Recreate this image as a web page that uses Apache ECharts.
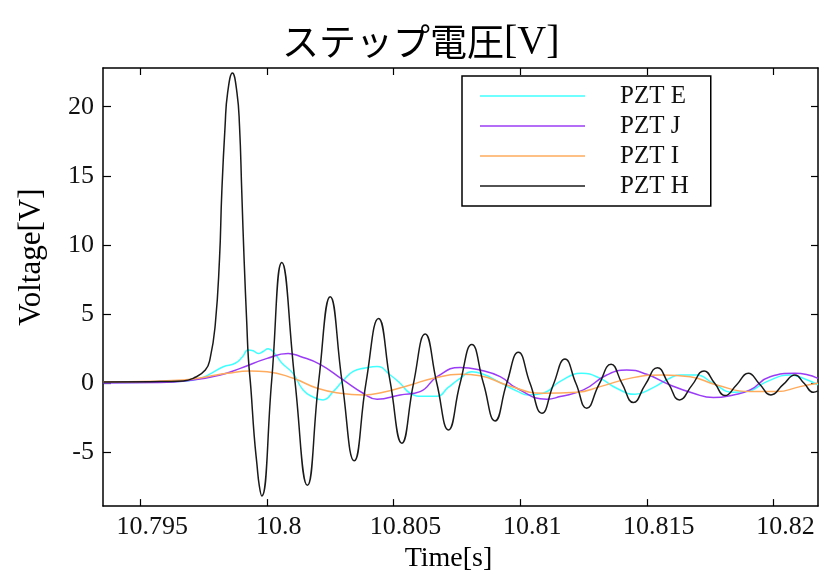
<!DOCTYPE html>
<html>
<head>
<meta charset="utf-8">
<script src="https://cdn.jsdelivr.net/npm/echarts@6/dist/echarts.min.js"></script>
<style>
  html, body { margin: 0; padding: 0; background: #fff; }
  #chart { width: 819px; height: 578px; }
</style>
</head>
<body>
<div id="chart"></div>
<script>
// Step response of four PZT sensors: [time (s), voltage (V)]
const pztE = [
  [10.79354, 0.05], [10.79540, 0.08], [10.79670, 0.15], [10.79737, 0.35],
  [10.79784, 0.75], [10.79828, 1.2], [10.79875, 1.45], [10.79903, 1.9],
  [10.79926, 2.4], [10.79946, 2.35], [10.79966, 2.15], [10.79985, 2.3],
  [10.80005, 2.5], [10.80033, 2.1], [10.80060, 1.45], [10.80104, 0.7],
  [10.80143, -0.48], [10.80183, -1.0], [10.80222, -1.2], [10.80262, -0.6],
  [10.80301, 0.2], [10.80341, 0.86], [10.80388, 1.1], [10.80435, 1.22],
  [10.80487, 0.6], [10.80526, 0.0], [10.80566, -0.72], [10.80617, -0.94],
  [10.80672, -0.94], [10.80716, -0.3], [10.80763, 0.36], [10.80809, 0.84],
  [10.80862, 0.6], [10.80901, 0.25], [10.80947, -0.2], [10.80992, -0.6],
  [10.81031, -0.84], [10.81091, -0.72], [10.81158, 0.14], [10.81243, 0.72],
  [10.81316, 0.36], [10.81381, -0.36], [10.81454, -0.79], [10.81525, -0.31],
  [10.81584, 0.3], [10.81631, 0.6], [10.81697, 0.6], [10.81762, 0.0],
  [10.81841, -0.65], [10.81895, -0.6], [10.81974, 0.12], [10.82066, 0.6],
  [10.82117, 0.36], [10.82176, -0.12]
];

const pztJ = [
  [10.79354, 0.02], [10.79579, 0.05], [10.79709, 0.24], [10.79816, 0.6],
  [10.79895, 1.08], [10.80001, 1.8], [10.80084, 2.16], [10.80132, 1.94],
  [10.80210, 1.37], [10.80301, 0.24], [10.80380, -0.72], [10.80435, -1.15],
  [10.80526, -0.84], [10.80605, -0.6], [10.80672, 0.48], [10.80763, 1.15],
  [10.80842, 0.96], [10.80921, 0.48], [10.80987, -0.36], [10.81105, -1.15],
  [10.81158, -0.96], [10.81250, -0.48], [10.81342, 0.6], [10.81421, 0.96],
  [10.81500, 0.65], [10.81592, -0.12], [10.81684, -0.72], [10.81763, -1.03],
  [10.81842, -0.84], [10.81908, -0.48], [10.81987, 0.48], [10.82085, 0.72],
  [10.82176, 0.36]
];

const pztI = [
  [10.79354, 0.12], [10.79449, 0.12], [10.79670, 0.24], [10.79764, 0.48],
  [10.79843, 0.72], [10.79934, 0.89], [10.80001, 0.84], [10.80104, 0.36],
  [10.80199, -0.36], [10.80289, -0.72], [10.80380, -0.84], [10.80459, -0.65],
  [10.80566, -0.12], [10.80657, 0.36], [10.80763, 0.65], [10.80842, 0.55],
  [10.80947, -0.12], [10.81091, -0.72], [10.81224, -0.65], [10.81316, -0.24],
  [10.81446, 0.41], [10.81564, 0.6], [10.81671, 0.48], [10.81776, -0.12],
  [10.81908, -0.6], [10.82013, -0.6], [10.82105, -0.24], [10.82176, 0.0]
];

const pztH = [
  [10.79354, 0.10], [10.79540, 0.12], [10.79670, 0.17], [10.79709, 0.36],
  [10.79757, 0.96], [10.79776, 1.8], [10.79796, 4.2], [10.79813, 9.0],
  [10.79822, 13.8], [10.79835, 18.6], [10.79845, 21.0], [10.79864, 22.44],
  [10.79882, 21.0], [10.79892, 18.6], [10.79901, 13.8], [10.79910, 9.0],
  [10.79921, 4.2], [10.79927, 1.8], [10.79937, -0.4], [10.79950, -3.8],
  [10.79961, -5.9], [10.79970, -7.4], [10.79980, -8.15], [10.80019, 0.2],
  [10.80059, 8.73], [10.80110, 0.3], [10.80160, -7.38], [10.80205, 0.2],
  [10.80250, 6.26], [10.80297, 0.1], [10.80345, -5.6], [10.80392, 0.1],
  [10.80441, 4.69], [10.80487, 0.1], [10.80533, -4.33], [10.80579, 0.0],
  [10.80625, 3.56], [10.80671, 0.0], [10.80717, -3.37], [10.80763, 0.0],
  [10.80809, 2.81], [10.80855, 0.0], [10.80901, -2.72], [10.80947, 0.0],
  [10.80993, 2.24], [10.81039, 0.0], [10.81086, -2.16], [10.81131, -0.1],
  [10.81177, 1.75], [10.81220, 0.0], [10.81263, -1.8], [10.81311, -0.1],
  [10.81359, 1.37], [10.81402, 0.0], [10.81447, -1.39], [10.81494, -0.1],
  [10.81542, 1.13], [10.81585, 0.0], [10.81629, -1.2], [10.81678, -0.15],
  [10.81726, 0.89], [10.81768, 0.0], [10.81809, -0.89], [10.81855, -0.1],
  [10.81901, 0.72], [10.81945, -0.05], [10.81990, -0.84], [10.82038, -0.1],
  [10.82085, 0.6], [10.82121, 0.0], [10.82158, -0.65], [10.82176, -0.55]
];

const seriesNames = ['PZT E', 'PZT J', 'PZT I', 'PZT H'];
const seriesColors = ['#40ffff', '#9a3cf5', '#ffab5e', '#1a1a1a'];
const xTicks = [10.795, 10.8, 10.805, 10.81, 10.815, 10.82];
const yTicks = [-5, 0, 5, 10, 15, 20];
const xRange = [10.79353, 10.82176];
const yRange = [-8.88, 22.8];

const serif = 'Liberation Serif, DejaVu Serif, serif';

// Unlabelled top / right axes closing the plot frame, ticks pointing inward
function frameAxis(pos, ticks, range) {
  return {
    type: 'value',
    position: pos,
    min: range[0],
    max: range[1],
    axisLine: { show: true, onZero: false, lineStyle: { color: '#000', width: 1.5 } },
    axisTick: { show: true, inside: true, length: 7, customValues: ticks,
                lineStyle: { color: '#000', width: 1.2 } },
    axisLabel: { show: false },
    splitLine: { show: false }
  };
}

const chart = echarts.init(document.getElementById('chart'), null, { renderer: 'canvas' });

const option = {
  animation: false,
  backgroundColor: '#fff',
  title: {
    text: '{a|ステップ電圧}{b|[V]}',
    left: 277,
    top: 14,
    textStyle: {
      fontWeight: 'normal',
      rich: {
        a: { fontFamily: 'Noto Sans CJK JP', fontSize: 37, fontWeight: 'normal', color: '#000', lineHeight: 46 },
        b: { fontFamily: serif, fontSize: 40, fontWeight: 'normal', color: '#000', lineHeight: 46 }
      }
    }
  },
  grid: { left: 103, right: 1, top: 68, bottom: 70, containLabel: false },
  legend: {
    orient: 'vertical',
    left: 462,
    top: 76,
    padding: [5, 22, 5, 18],
    itemGap: 0,
    itemWidth: 105,
    itemHeight: 1.5,
    icon: 'rect',
    backgroundColor: '#fff',
    borderColor: '#000',
    borderWidth: 1.5,
    borderRadius: 0,
    data: seriesNames,
    textStyle: {
      fontFamily: serif,
      fontSize: 25,
      color: '#111',
      lineHeight: 30,
      padding: [0, 0, 0, 30]
    }
  },
  xAxis: [
    {
      type: 'value',
      position: 'bottom',
      min: xRange[0],
      max: xRange[1],
      name: 'Time[s]',
      nameLocation: 'middle',
      nameGap: 35,
      nameTextStyle: { fontFamily: serif, fontSize: 28, color: '#000', padding: [0, 24, 0, 0] },
      axisLine: { show: true, onZero: false, lineStyle: { color: '#000', width: 1.5 } },
      axisTick: { show: true, inside: true, length: 7, customValues: xTicks,
                  lineStyle: { color: '#000', width: 1.2 } },
      axisLabel: {
        customValues: xTicks,
        fontFamily: serif,
        fontSize: 26,
        color: '#111',
        margin: 8,
        padding: [0, 0, 0, 24]
      },
      splitLine: { show: false }
    },
    frameAxis('top', xTicks, xRange)
  ],
  yAxis: [
    {
      type: 'value',
      position: 'left',
      min: yRange[0],
      max: yRange[1],
      name: 'Voltage[V]',
      nameLocation: 'middle',
      nameGap: 56,
      nameTextStyle: { fontFamily: serif, fontSize: 31, color: '#000', padding: [0, 0, 0, 60] },
      axisLine: { show: true, onZero: false, lineStyle: { color: '#000', width: 1.5 } },
      axisTick: { show: true, inside: true, length: 8, customValues: yTicks,
                  lineStyle: { color: '#000', width: 1.2 } },
      axisLabel: {
        customValues: yTicks,
        fontFamily: serif,
        fontSize: 26,
        color: '#111',
        margin: 9
      },
      splitLine: { show: false }
    },
    frameAxis('right', yTicks, yRange)
  ],
  series: [pztE, pztJ, pztI, pztH].map((d, i) => ({
    name: seriesNames[i],
    type: 'line',
    data: d,
    xAxisIndex: 0,
    yAxisIndex: 0,
    smooth: 0.5,
    symbol: 'none',
    color: seriesColors[i],
    lineStyle: { color: seriesColors[i], width: 1.5 },
    z: 2 + i
  }))
};

chart.setOption(option);
</script>
</body>
</html>
